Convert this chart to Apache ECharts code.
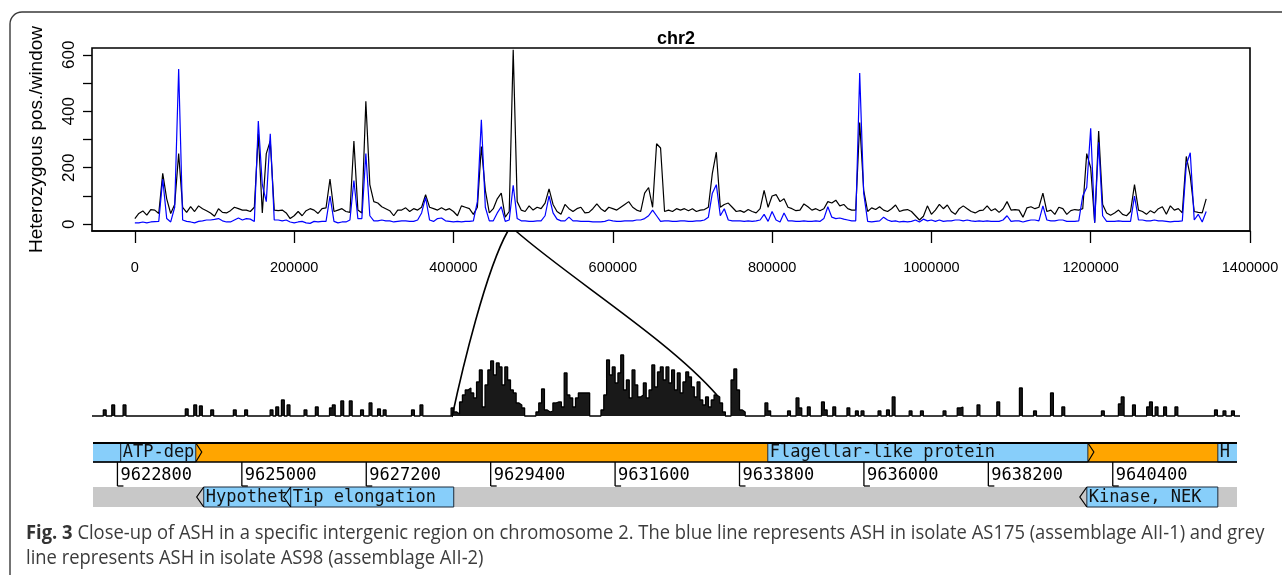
<!DOCTYPE html>
<html>
<head>
<meta charset="utf-8">
<script src="https://cdn.jsdelivr.net/npm/echarts@6/dist/echarts.min.js"></script>
<style>
  html, body { margin: 0; padding: 0; background: #fff; }
  #main { width: 1282px; height: 575px; }
</style>
</head>
<body>
<div id="main"></div>
<script>
// the source figure is squeezed horizontally; flat text is set a little smaller to keep its width
const SANS = "'Liberation Sans', Arial, sans-serif";
const MONO = "'DejaVu Sans Mono', monospace";
const CAPTION_FONT = "'Open Sans', 'Noto Sans', sans-serif";

// ---- top panel: heterozygous positions per 5 kb window along chr2 ----
const winSize = 5000;
const blackAS98 = [
  20, 38, 47, 32, 52, 50, 38, 180, 90, 38,
  70, 250, 60, 42, 62, 45, 65, 55, 48, 40,
  28, 55, 42, 40, 48, 60, 55, 50, 50, 45,
  60, 320, 40, 250, 295, 50, 48, 50, 40, 20,
  30, 45, 30, 48, 55, 50, 38, 55, 58, 160,
  45, 50, 55, 45, 42, 295, 50, 40, 435, 140,
  80, 75, 62, 55, 48, 30, 50, 50, 58, 45,
  55, 50, 60, 105, 60, 55, 50, 58, 50, 55,
  45, 30, 65, 60, 55, 35, 60, 275, 120, 40,
  55, 90, 110, 25, 45, 618, 80, 50, 45, 65,
  50, 60, 55, 75, 125, 70, 45, 35, 70, 55,
  45, 55, 60, 40, 42, 55, 72, 55, 45, 60,
  55, 50, 60, 70, 80, 60, 50, 45, 110, 130,
  60, 285, 270, 45, 50, 45, 55, 50, 55, 48,
  55, 45, 50, 52, 60, 180, 255, 60, 70, 75,
  60, 45, 48, 42, 52, 45, 40, 55, 120, 60,
  100, 105, 80, 90, 60, 55, 48, 50, 72, 62,
  50, 55, 48, 55, 80, 75, 85, 65, 70, 55,
  50, 50, 360, 120, 45, 58, 52, 62, 50, 45,
  55, 68, 45, 50, 52, 45, 30, 15, 28, 65,
  35, 50, 70, 55, 68, 45, 35, 55, 65, 55,
  45, 40, 48, 50, 65, 48, 55, 42, 55, 80,
  50, 52, 50, 25, 58, 62, 55, 60, 110, 45,
  50, 35, 60, 55, 35, 48, 52, 50, 55, 250,
  200, 5, 330, 70, 40, 32, 40, 50, 35, 30,
  45, 140, 50, 45, 35, 48, 40, 55, 62, 35,
  65, 50, 55, 40, 240, 170, 45, 42, 40, 90
];
const blueAS175 = [
  5, 5, 8, 5, 8, 9, 10, 160, 20, 8,
  60, 550, 15, 10, 8, 5, 10, 12, 15, 15,
  17, 20, 12, 8, 8, 15, 22, 15, 20, 18,
  10, 365, 140, 80, 320, 15, 15, 12, 15, 8,
  5, 8, 10, 5, 3, 10, 8, 10, 10, 100,
  10, 5, 8, 8, 15, 155, 20, 20, 250, 30,
  12, 12, 15, 12, 12, 8, 10, 12, 12, 10,
  10, 15, 40, 95, 15, 10, 20, 22, 12, 10,
  8, 10, 8, 10, 10, 12, 80, 370, 60, 12,
  12, 40, 62, 10, 15, 138, 20, 12, 12, 10,
  10, 12, 12, 30, 100, 40, 18, 12, 12, 25,
  12, 12, 10, 10, 10, 8, 8, 8, 10, 15,
  12, 10, 10, 12, 12, 12, 15, 15, 20, 30,
  50, 30, 10, 12, 12, 10, 10, 12, 12, 10,
  10, 12, 12, 15, 25, 110, 140, 30, 55, 15,
  12, 12, 12, 10, 12, 10, 12, 15, 35, 10,
  45, 15, 8, 40, 12, 12, 10, 10, 12, 10,
  10, 12, 10, 20, 62, 25, 20, 22, 18, 15,
  12, 12, 535, 110, 10, 8, 10, 12, 25, 15,
  10, 12, 8, 10, 8, 10, 15, 8, 18, 12,
  15, 10, 15, 10, 12, 12, 15, 15, 12, 15,
  12, 10, 12, 10, 12, 10, 10, 10, 15, 30,
  10, 12, 12, 8, 12, 15, 15, 12, 65, 15,
  12, 12, 15, 15, 10, 10, 10, 12, 100, 130,
  340, 5, 290, 30, 10, 10, 10, 12, 10, 10,
  10, 100, 15, 15, 12, 12, 15, 12, 12, 10,
  8, 10, 10, 12, 210, 253, 15, 35, 8, 45
];
const xTicks = [0, 200000, 400000, 600000, 800000, 1000000, 1200000, 1400000];
const yTicks = [0, 100, 200, 300, 400, 500, 600];
const yLabels = [0, 200, 400, 600];

// ---- middle panel: close-up, 50 bp bins (heights in plot units) ----
const stepStart = 9622350;
const stepBin = 50;
const stepBins = 406;
const stepDenseFrom = 127;
const stepDense = [
  8, 4, 2, 14, 21, 26, 28, 23, 18, 34,
  46, 9, 31, 46, 55, 41, 53, 49, 31, 49,
  36, 26, 23, 13, 11, 8, 0, 0, 0, 0,
  4, 13, 27, 6, 4, 5, 13, 14, 14, 9,
  43, 21, 18, 9, 18, 23, 23, 23, 23, 0,
  0, 0, 0, 6, 21, 56, 41, 49, 33, 43,
  61, 26, 36, 18, 46, 31, 19, 21, 33, 18,
  26, 51, 29, 44, 49, 36, 49, 33, 46, 26,
  43, 23, 34, 44, 39, 29, 19, 34, 16, 11,
  19, 9, 16, 21, 19, 13, 4, 0, 0, 36,
  47, 26, 6, 4, 0, 0
];
// isolated spikes outside the dense stretch: [bin, height]
const stepSpikes = [
  [4, 6], [7, 11], [11, 11], [33, 7], [36, 11], [38, 10], [42, 6], [50, 6], [54, 6],
  [63, 6], [65, 9], [67, 16], [69, 11], [75, 6], [79, 9], [84, 8], [85, 11], [88, 15],
  [91, 15], [95, 6], [98, 13], [101, 7], [103, 6], [113, 6], [116, 11],
  [238, 13], [239, 5], [246, 5], [249, 18], [250, 8], [253, 9], [258, 14], [259, 6],
  [262, 9], [267, 8], [270, 5], [272, 5], [278, 5], [281, 6], [283, 19], [289, 5],
  [293, 5], [301, 5], [306, 8], [307, 9], [313, 11], [320, 14], [328, 28], [333, 5],
  [339, 23], [343, 9], [357, 5], [363, 12], [364, 19], [368, 11], [373, 9], [374, 14],
  [376, 9], [379, 9], [383, 9], [397, 6], [400, 5], [403, 5]
];

// ---- gene track ----
const trackRange = [9622368, 9642597];
const trackTicks = [9622800, 9625000, 9627200, 9629400, 9631600, 9633800, 9636000, 9638200, 9640400];
const geneStart = [9621000, 9622858, 9634300, 9642258, 9624326, 9625864, 9639942];
const geneEnd = [9622858, 9624185, 9639960, 9644500, 9625864, 9628747, 9642258];
const geneRow = [0, 0, 0, 0, 1, 1, 1];
const geneLabel = ['', 'ATP-dependent', 'Flagellar-like protein', 'Hypothetical protein',
  'Hypothetical protein', 'Tip elongation aberrant protein', 'Kinase, NEK'];

// region of chr2 blown up below, and where it lands in the close-up
const zoomTop = [468300, 478300];
const zoomBottomLeft = [9628716, -1];
const zoomBottomRight = [9633400, 21];

const captionLine1 = 'Close-up of ASH in a specific intergenic region on chromosome 2. The blue line represents ASH in isolate AS175 (assemblage AII-1) and grey';
const captionLine2 = 'line represents ASH in isolate AS98 (assemblage AII-2)';

const LIGHTBLUE = '#87cefa';
const ORANGE = '#ffa500';
const GREY = '#c8c8c8';
const BOX_EDGE = '#1d2b3a';
// track rows, in px below the track top
const ROW_TOP = [0, 20];
const TICK_ROW = [20, 44];
const ROW_BOT = [45, 65];

const lineData = arr => arr.map((v, k) => [k * winSize, v]);

const stepHeights = new Array(stepBins).fill(0);
stepSpikes.forEach(([i, h]) => { stepHeights[i] = h; });
stepDense.forEach((h, j) => { stepHeights[stepDenseFrom + j] = h; });
const stepData = stepHeights.map((h, i) => [stepStart + i * stepBin, h]);
stepData.push([stepStart + stepBins * stepBin, stepHeights[stepBins - 1]]);

function rowBg(params, api) {
  const band = params.dataIndex === 0 ? ROW_TOP : ROW_BOT;
  const a = api.coord([api.value(0), band[0]]);
  const b = api.coord([api.value(1), band[1]]);
  return {
    type: 'rect',
    shape: { x: a[0], y: a[1], width: b[0] - a[0], height: b[1] - a[1] },
    style: { fill: params.dataIndex === 0 ? ORANGE : GREY }
  };
}

function rowLines(params, api) {
  const a = api.coord([api.value(0), ROW_TOP[0]]);
  const b = api.coord([api.value(1), ROW_TOP[1]]);
  return {
    type: 'group',
    children: [
      { type: 'line', shape: { x1: a[0], y1: a[1] + 1, x2: b[0], y2: a[1] + 1 }, style: { stroke: '#000', lineWidth: 2.2 } },
      { type: 'line', shape: { x1: a[0], y1: b[1], x2: b[0], y2: b[1] }, style: { stroke: '#000', lineWidth: 1.6 } }
    ]
  };
}

function geneBox(params, api) {
  const i = params.dataIndex;
  const band = geneRow[i] === 0 ? ROW_TOP : ROW_BOT;
  const a = api.coord([geneStart[i], band[0]]);
  const b = api.coord([geneEnd[i], band[1]]);
  const cs = params.coordSys;
  const left = Math.max(a[0], cs.x);
  const right = Math.min(b[0], cs.x + cs.width);
  const mid = (a[1] + b[1]) / 2;
  const children = [{
    type: 'rect',
    shape: { x: a[0], y: a[1], width: b[0] - a[0], height: b[1] - a[1] },
    style: { fill: LIGHTBLUE, stroke: BOX_EDGE, lineWidth: 1 }
  }];
  if (geneLabel[i]) {
    children.push({
      type: 'text', x: left + 2, y: mid + 1,
      style: {
        text: geneLabel[i], width: right - left, overflow: 'truncate', ellipsis: '',
        fontFamily: MONO, fontSize: 17, fill: '#111', verticalAlign: 'middle'
      }
    });
  }
  if (geneRow[i] === 0 && b[0] <= cs.x + cs.width) {
    children.push({ type: 'polyline', shape: { points: [[b[0], a[1] + 1], [b[0] + 6, mid], [b[0], b[1]]] },
      style: { stroke: '#000', lineWidth: 1.2, fill: null } });
  }
  if (geneRow[i] === 1 && a[0] >= cs.x) {
    children.push({ type: 'polyline', shape: { points: [[a[0], a[1]], [a[0] - 7, mid], [a[0], b[1]]] },
      style: { stroke: '#000', lineWidth: 1.2, fill: null } });
  }
  return { type: 'group', children };
}

function trackTick(params, api) {
  const top = api.coord([api.value(0), TICK_ROW[0]]);
  const bot = api.coord([api.value(0), TICK_ROW[1]]);
  const x = top[0];
  return {
    type: 'group',
    children: [
      { type: 'line', shape: { x1: x, y1: top[1], x2: x, y2: bot[1] }, style: { stroke: '#000', lineWidth: 1.3 } },
      { type: 'line', shape: { x1: x, y1: bot[1], x2: x + 6, y2: bot[1] }, style: { stroke: '#000', lineWidth: 1.3 } },
      { type: 'text', x: x + 3, y: (top[1] + bot[1]) / 2 + 2,
        style: { text: String(api.value(0)), fontFamily: MONO, fontSize: 17, fill: '#000', verticalAlign: 'middle' } }
    ]
  };
}

// caption: the figure is horizontally condensed, squeeze to the printed width
const measure = document.createElement('canvas').getContext('2d');
measure.font = "20px 'Open Sans'";
const capScale = 1236 / measure.measureText('Fig. 3 ' + captionLine1).width;

const chart = echarts.init(document.getElementById('main'));
chart.setOption({
  animation: false,
  backgroundColor: '#fff',
  title: {
    text: 'chr2', left: 671, top: 25, textAlign: 'center',
    textStyle: { fontFamily: SANS, fontSize: 18, fontWeight: 'bold', color: '#000' }
  },
  grid: [
    { left: 92, top: 48, width: 1158, height: 183, show: true, borderColor: '#000', borderWidth: 1.6 },
    { left: 92, top: 354, width: 1148, height: 64 },
    { left: 93, top: 442, width: 1144, height: 66 }
  ],
  xAxis: [
    {
      type: 'value', gridIndex: 0, position: 'bottom', min: -53800, max: 1400000,
      axisLine: { show: true, onZero: false, lineStyle: { color: '#000', width: 1.6 } },
      axisTick: { show: true, inside: false, customValues: xTicks, length: 12, lineStyle: { color: '#000', width: 1.3 } },
      axisLabel: { customValues: xTicks, margin: 29, fontFamily: SANS, fontSize: 14.5, color: '#000', formatter: v => String(v) },
      splitLine: { show: false }
    },
    { type: 'value', gridIndex: 1, min: stepStart, max: stepStart + stepBins * stepBin, show: false },
    { type: 'value', gridIndex: 2, min: trackRange[0], max: trackRange[1], show: false }
  ],
  yAxis: [
    {
      type: 'value', gridIndex: 0, min: -24, max: 624,
      name: 'Heterozygous pos./window', nameLocation: 'middle', nameGap: 46,
      nameTextStyle: { fontFamily: SANS, fontSize: 19, color: '#000' },
      axisLine: { show: false, onZero: false },
      axisTick: { show: true, customValues: yTicks, length: 9, lineStyle: { color: '#000', width: 1.3 } },
      axisLabel: { customValues: yLabels, rotate: 90, margin: 14, fontFamily: SANS, fontSize: 17, color: '#000', formatter: v => String(v) },
      splitLine: { show: false }
    },
    { type: 'value', gridIndex: 1, min: -2, max: 62, show: false },
    { type: 'value', gridIndex: 2, min: 0, max: 66, inverse: true, show: false }
  ],
  series: [
    {
      name: 'AS98', type: 'line', xAxisIndex: 0, yAxisIndex: 0, data: lineData(blackAS98),
      showSymbol: false, lineStyle: { color: '#000', width: 1.2 }, z: 2, silent: true
    },
    {
      name: 'AS175', type: 'line', xAxisIndex: 0, yAxisIndex: 0, data: lineData(blueAS175),
      showSymbol: false, lineStyle: { color: '#0000ff', width: 1.2 }, z: 3, silent: true
    },
    {
      name: 'close-up', type: 'line', xAxisIndex: 1, yAxisIndex: 1, data: stepData, step: 'end',
      showSymbol: false, lineStyle: { color: '#000', width: 1.3 },
      areaStyle: { color: '#000', opacity: 0.9, origin: 0 }, silent: true
    },
    {
      type: 'custom', xAxisIndex: 2, yAxisIndex: 2, clip: true, z: 1, silent: true,
      data: [[trackRange[0], trackRange[1]], [trackRange[0], trackRange[1]]], renderItem: rowBg
    },
    {
      type: 'custom', xAxisIndex: 2, yAxisIndex: 2, clip: true, z: 2, silent: true,
      data: geneStart.map((s, i) => [s, geneEnd[i], geneRow[i]]), renderItem: geneBox
    },
    {
      type: 'custom', xAxisIndex: 2, yAxisIndex: 2, clip: true, z: 3, silent: true,
      data: [[trackRange[0], trackRange[1]]], renderItem: rowLines
    },
    {
      type: 'custom', xAxisIndex: 2, yAxisIndex: 2, clip: false, z: 3, silent: true,
      data: trackTicks.map(t => [t]), renderItem: trackTick
    }
  ],
  graphic: [
    {
      type: 'rect', id: 'frame', silent: true, z: 0,
      shape: { x: 10, y: 12, width: 1320, height: 620, r: 12 },
      style: { fill: null, stroke: '#3a3a3a', lineWidth: 1.4 }
    },
    {
      type: 'text', id: 'cap1', x: 26, y: 533, scaleX: capScale, silent: true,
      style: {
        text: '{b|Fig. 3} ' + captionLine1,
        rich: { b: { fontFamily: CAPTION_FONT, fontSize: 20, fontWeight: 'bold', fill: '#333' } },
        fontFamily: CAPTION_FONT, fontSize: 20, fill: '#3c3c3c', verticalAlign: 'middle'
      }
    },
    {
      type: 'text', id: 'cap2', x: 26, y: 558, scaleX: capScale, silent: true,
      style: { text: captionLine2, fontFamily: CAPTION_FONT, fontSize: 20, fill: '#3c3c3c', verticalAlign: 'middle' }
    }
  ]
});

// connector curves between the chr2 window and the close-up
const pTopL = chart.convertToPixel({ xAxisIndex: 0, yAxisIndex: 0 }, [zoomTop[0], -24]);
const pTopR = chart.convertToPixel({ xAxisIndex: 0, yAxisIndex: 0 }, [zoomTop[1], -24]);
const pBotL = chart.convertToPixel({ xAxisIndex: 1, yAxisIndex: 1 }, zoomBottomLeft);
const pBotR = chart.convertToPixel({ xAxisIndex: 1, yAxisIndex: 1 }, zoomBottomRight);
const curve = (id, p0, p3, c1, c2) => ({
  type: 'bezierCurve', id, silent: true, z: 20,
  shape: {
    x1: p0[0], y1: p0[1], x2: p3[0], y2: p3[1],
    cpx1: p0[0] + c1[0], cpy1: p0[1] + c1[1], cpx2: p3[0] + c2[0], cpy2: p3[1] + c2[1]
  },
  style: { stroke: '#000', lineWidth: 1.6, fill: null }
});
chart.setOption({
  graphic: [
    curve('linkL', pTopL, pBotL, [-22, 39], [10, -47]),
    curve('linkR', pTopR, pBotR, [55, 48], [-48, -55])
  ]
});
</script>
</body>
</html>
